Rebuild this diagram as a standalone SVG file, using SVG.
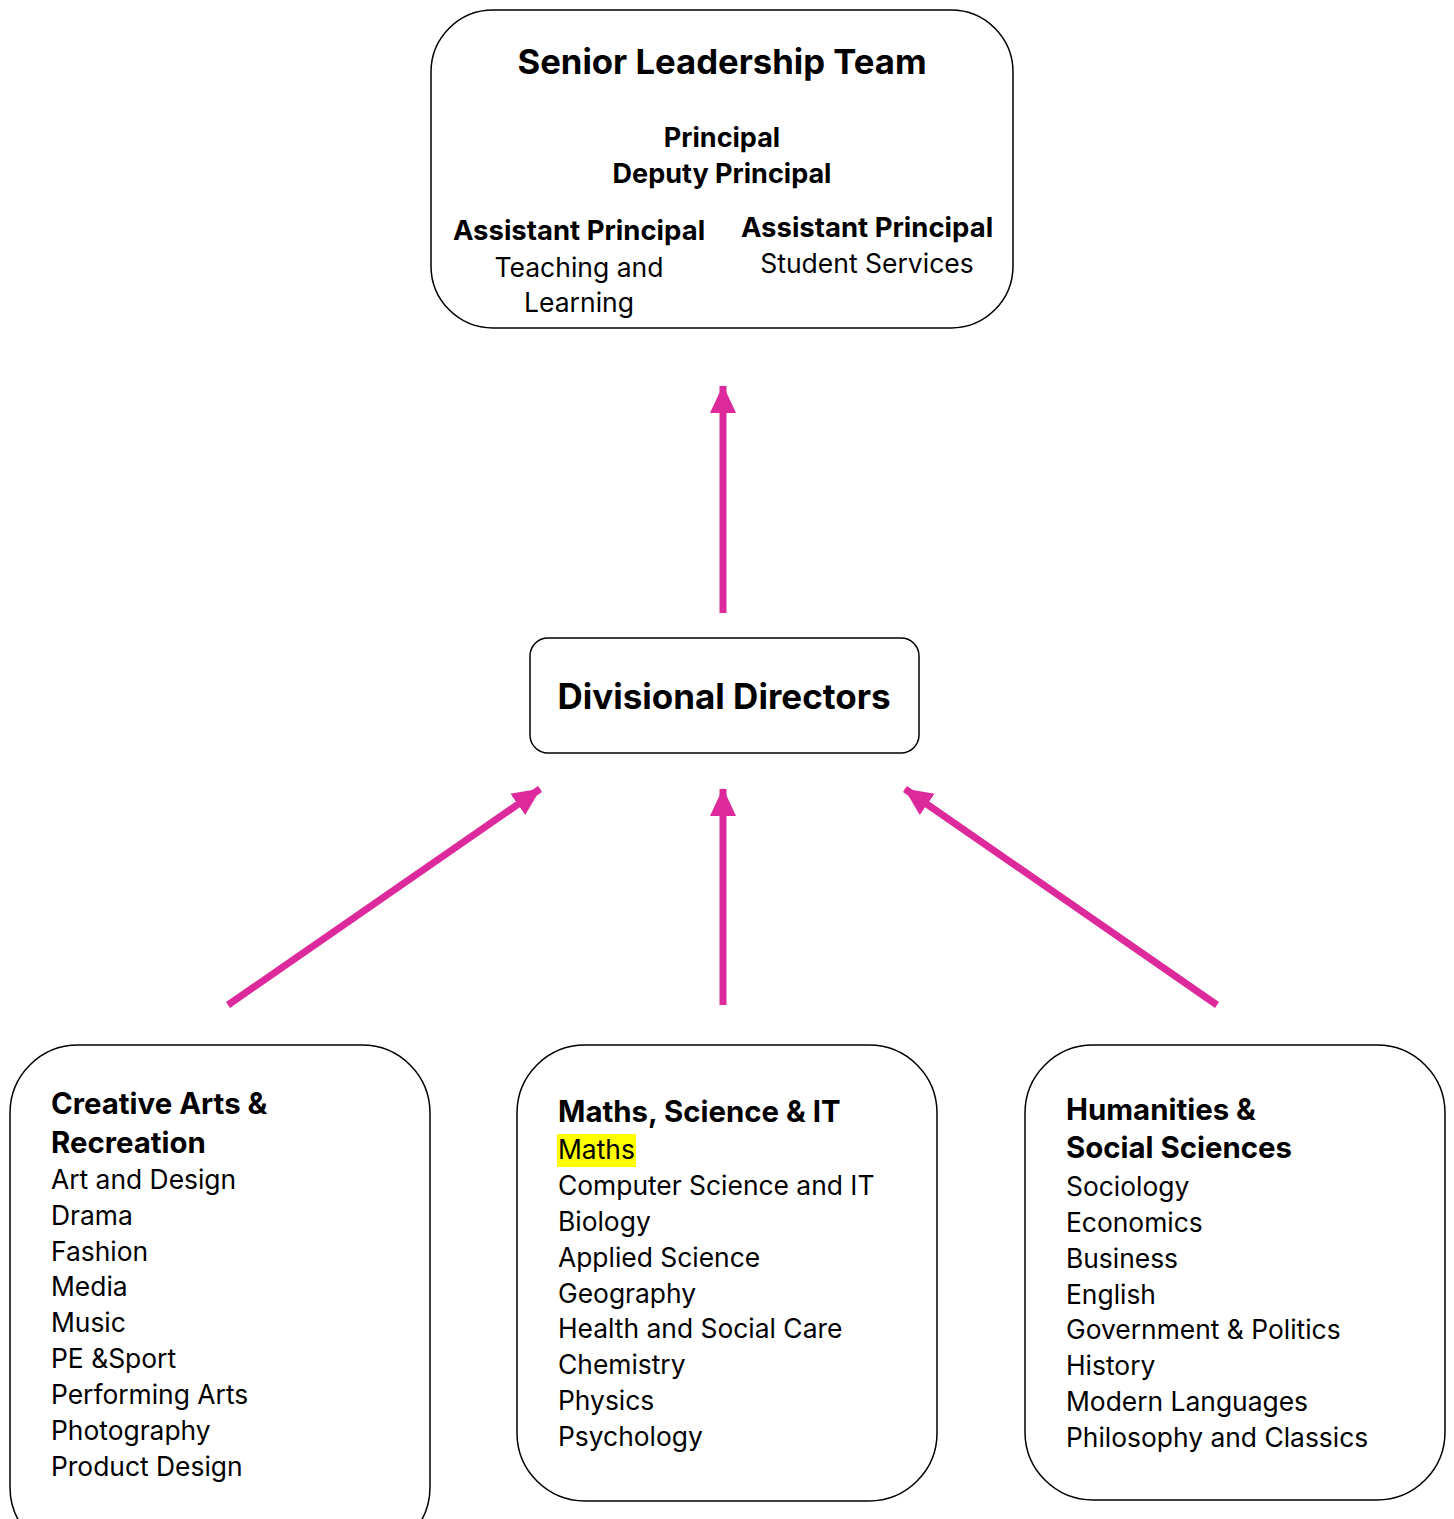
<svg xmlns="http://www.w3.org/2000/svg" width="1454" height="1519" viewBox="0 0 1454 1519">
<style>
.box{fill:#fff;stroke:#000;stroke-width:1.5}
text{font-family:Inter,"Liberation Sans",sans-serif;fill:#000}
.b{font-weight:700}
.c{text-anchor:middle}
.it{font-size:26.4px}
.hd{font-size:29.4px;font-weight:700}
.conn{stroke:#DC2A9C;stroke-width:7;fill:none}
</style>
<defs>
<marker id="ah" markerUnits="userSpaceOnUse" markerWidth="30" markerHeight="30" viewBox="0 0 30 30" refX="27" refY="15" orient="auto">
<path d="M0,2 L28,15 L0,28 Z" fill="#DC2A9C"/>
</marker>
</defs>
<rect width="1454" height="1519" fill="#fff"/>
<g id="connectors">
<line class="conn" x1="723" y1="613" x2="723" y2="386" marker-end="url(#ah)"/>
<line class="conn" x1="723" y1="1005" x2="723" y2="789" marker-end="url(#ah)"/>
<line class="conn" x1="228" y1="1005" x2="540" y2="789" marker-end="url(#ah)"/>
<line class="conn" x1="1217" y1="1005" x2="905" y2="789" marker-end="url(#ah)"/>
</g>
<g id="slt">
<rect class="box" x="431" y="10" width="582" height="318" rx="62"/>
<text class="c b" x="722" y="74" font-size="34.7">Senior Leadership Team</text>
<text class="c b" x="722" y="147" font-size="27">Principal</text>
<text class="c b" x="722" y="183" font-size="27">Deputy Principal</text>
<text class="c b" x="579" y="240" font-size="27.5">Assistant Principal</text>
<text class="c" x="579" y="277" font-size="26.5">Teaching and</text>
<text class="c" x="579" y="312" font-size="26.5">Learning</text>
<text class="c b" x="867" y="237" font-size="27.5">Assistant Principal</text>
<text class="c" x="867" y="273" font-size="26.5">Student Services</text>
</g>
<g id="dd">
<rect class="box" x="530" y="638" width="389" height="115" rx="18"/>
<text class="c b" x="724" y="709" font-size="35">Divisional Directors</text>
</g>
<g id="creative">
<rect class="box" x="10" y="1045" width="420" height="510" rx="68"/>
<text class="hd" x="51" y="1114">Creative Arts &amp;</text>
<text class="hd" x="51" y="1153">Recreation</text>
<text class="it" x="51" y="1189">Art and Design</text>
<text class="it" x="51" y="1225">Drama</text>
<text class="it" x="51" y="1261">Fashion</text>
<text class="it" x="51" y="1296">Media</text>
<text class="it" x="51" y="1332">Music</text>
<text class="it" x="51" y="1368">PE &amp;Sport</text>
<text class="it" x="51" y="1404">Performing Arts</text>
<text class="it" x="51" y="1440">Photography</text>
<text class="it" x="51" y="1476">Product Design</text>
</g>
<g id="maths">
<rect class="box" x="517" y="1045" width="420" height="456" rx="68"/>
<rect x="557" y="1134" width="79" height="33" fill="#FFFF00"/>
<text class="hd" x="558" y="1122">Maths, Science &amp; IT</text>
<text class="it" x="558" y="1159">Maths</text>
<text class="it" x="558" y="1195">Computer Science and IT</text>
<text class="it" x="558" y="1231">Biology</text>
<text class="it" x="558" y="1267">Applied Science</text>
<text class="it" x="558" y="1303">Geography</text>
<text class="it" x="558" y="1338">Health and Social Care</text>
<text class="it" x="558" y="1374">Chemistry</text>
<text class="it" x="558" y="1410">Physics</text>
<text class="it" x="558" y="1446">Psychology</text>
</g>
<g id="humanities">
<rect class="box" x="1025" y="1045" width="420" height="455" rx="68"/>
<text class="hd" x="1066" y="1120">Humanities &amp;</text>
<text class="hd" x="1066" y="1158">Social Sciences</text>
<text class="it" x="1066" y="1196">Sociology</text>
<text class="it" x="1066" y="1232">Economics</text>
<text class="it" x="1066" y="1268">Business</text>
<text class="it" x="1066" y="1304">English</text>
<text class="it" x="1066" y="1339">Government &amp; Politics</text>
<text class="it" x="1066" y="1375">History</text>
<text class="it" x="1066" y="1411">Modern Languages</text>
<text class="it" x="1066" y="1447">Philosophy and Classics</text>
</g>
</svg>
